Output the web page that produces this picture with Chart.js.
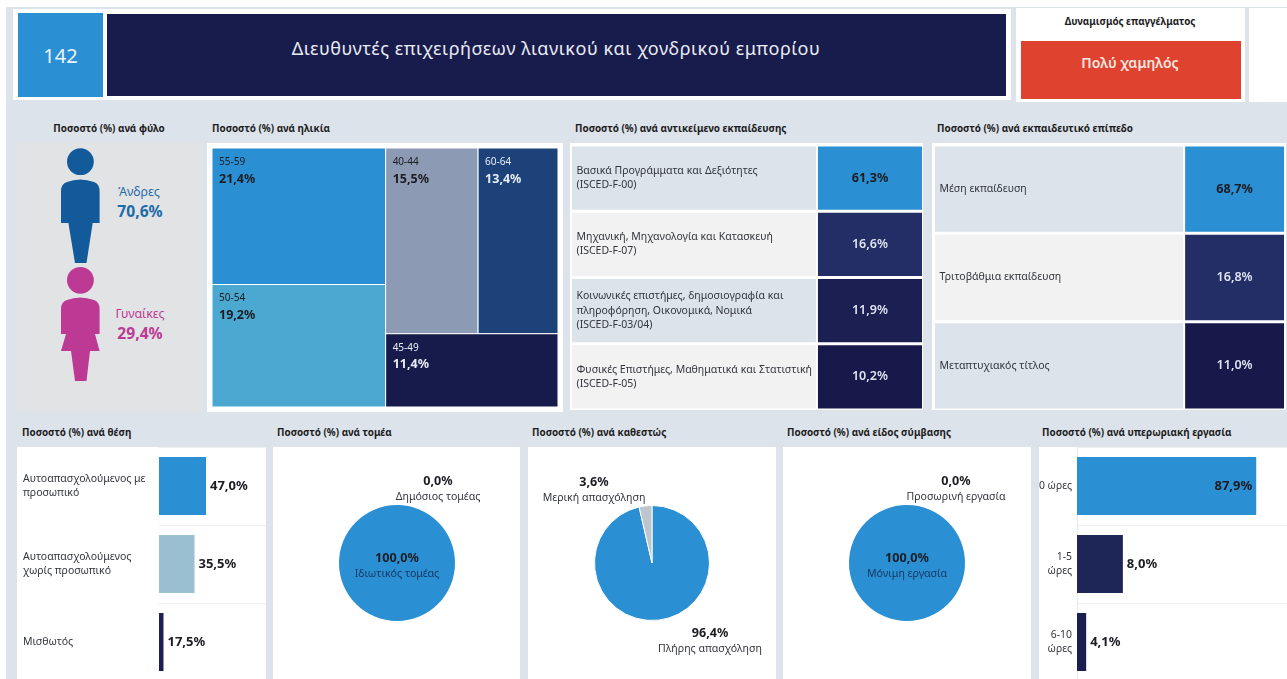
<!DOCTYPE html>
<html lang="el"><head><meta charset="utf-8"><title>Διευθυντές επιχειρήσεων λιανικού και χονδρικού εμπορίου</title>
<script src="https://cdn.jsdelivr.net/npm/chart.js@4"></script>
<style>
html,body{margin:0;padding:0;background:#fff;width:1287px;height:679px;overflow:hidden;font-family:"Noto Sans",sans-serif}
#s{position:absolute;left:0;top:0;width:1287px;height:679px;overflow:hidden}
.b{position:absolute}.t{position:absolute;white-space:nowrap;line-height:1}
canvas{position:absolute;display:block}
</style></head><body><div id="s"></div>
<script>
// ---- data ----
const occupationCode = "142";
const occupationTitle = "Διευθυντές επιχειρήσεων λιανικού και χονδρικού εμπορίου";
const dynamismTitle = "Δυναμισμός επαγγέλματος";
const dynamismValue = "Πολύ χαμηλός";

const genderLabels = ["Άνδρες", "Γυναίκες"];
const genderValues = [70.6, 29.4];

const ageLabels = ["55-59", "50-54", "40-44", "60-64", "45-49"];
const ageValues = [21.4, 19.2, 15.5, 13.4, 11.4];

const studyLabels = [
  ["Βασικά Προγράμματα και Δεξιότητες", "(ISCED-F-00)"],
  ["Μηχανική, Μηχανολογία και Κατασκευή", "(ISCED-F-07)"],
  ["Κοινωνικές επιστήμες, δημοσιογραφία και", "πληροφόρηση, Οικονομικά, Νομικά", "(ISCED-F-03/04)"],
  ["Φυσικές Επιστήμες, Μαθηματικά και Στατιστική", "(ISCED-F-05)"]
];
const studyValues = [61.3, 16.6, 11.9, 10.2];

const levelLabels = ["Μέση εκπαίδευση", "Τριτοβάθμια εκπαίδευση", "Μεταπτυχιακός τίτλος"];
const levelValues = [68.7, 16.8, 11.0];

const positionLabels = [["Αυτοαπασχολούμενος με", "προσωπικό"], ["Αυτοαπασχολούμενος", "χωρίς προσωπικό"], "Μισθωτός"];
const positionValues = [47.0, 35.5, 17.5];       // printed on the labels
const positionBarLengths = [47.0, 35.5, 4.5];    // length as drawn in the reference

const sectorLabels = ["Ιδιωτικός τομέας", "Δημόσιος τομέας"];
const sectorValues = [100.0, 0.0];

const statusLabels = ["Πλήρης απασχόληση", "Μερική απασχόληση"];
const statusValues = [96.4, 3.6];

const contractLabels = ["Μόνιμη εργασία", "Προσωρινή εργασία"];
const contractValues = [100.0, 0.0];

const overtimeLabels = ["0 ώρες", ["1-5", "ώρες"], ["6-10", "ώρες"]];
const overtimeValues = [87.9, 8.0, 4.1];         // printed on the labels
const overtimeBarLengths = [87.9, 22.5, 4.5];    // length as drawn in the reference

const headings = ["Ποσοστό (%) ανά φύλο", "Ποσοστό (%) ανά ηλικία", "Ποσοστό (%) ανά αντικείμενο εκπαίδευσης",
  "Ποσοστό (%) ανά εκπαιδευτικό επίπεδο", "Ποσοστό (%) ανά θέση", "Ποσοστό (%) ανά τομέα",
  "Ποσοστό (%) ανά καθεστώς", "Ποσοστό (%) ανά είδος σύμβασης", "Ποσοστό (%) ανά υπερωριακή εργασία"];

// ---- styling ----
const FONT = '"Noto Sans", sans-serif';
const BLUE = "#2A8FD3", NAVY = "#181C4D", INK = "#1c1c22";
const fmt = v => v.toFixed(1).replace(".", ",") + "%";
const root = document.getElementById("s");
Chart.defaults.animation = false;
Chart.defaults.responsive = false;
Chart.defaults.font.family = FONT;
Chart.defaults.plugins.legend.display = false;
Chart.defaults.plugins.tooltip.enabled = false;
Chart.defaults.devicePixelRatio = 1;

function box(x, y, w, h, c) {
  const d = document.createElement("div"); d.className = "b";
  d.style.cssText = `left:${x}px;top:${y}px;width:${w}px;height:${h}px;background:${c}`;
  root.appendChild(d); return d;
}
function text(x, y, s, css, align) {
  const d = document.createElement("div"); d.className = "t"; d.textContent = s;
  const tx = align === "left" ? "0" : "-50%";
  d.style.cssText = `left:${x}px;top:${y}px;transform:translate(${tx},-50%);${css}`;
  root.appendChild(d); return d;
}
function cv(x, y, w, h) {
  const c = document.createElement("canvas");
  c.width = w; c.height = h; c.style.left = x + "px"; c.style.top = y + "px";
  c.style.width = w + "px"; c.style.height = h + "px";
  root.appendChild(c); return c;
}
function noPadding(s) { s.paddingTop = 0; s.paddingBottom = 0; s.paddingLeft = 0; s.paddingRight = 0; }

// ---- page frame ----
box(6, 7, 1281, 672, "#DCE3EA");
box(13, 9, 998, 91, "#fff");
box(18, 13, 85, 84, BLUE);
box(107, 14, 899, 82, NAVY);
box(1016, 8, 229, 94, "#fff");
box(1249, 8, 38, 94, "#fff");
box(1021, 41, 220, 58, "#DF432F");
text(60.5, 56, occupationCode, "font-size:20px;color:#eaf3fa");
text(556, 48, occupationTitle, "font-size:18px;letter-spacing:.55px;color:#e9ebf2");
text(1130, 22, dynamismTitle, "font-size:9.8px;font-weight:700;color:#1c1c22");
text(1130, 63, dynamismValue, "font-size:14px;font-weight:600;color:#f6e6e0");

const H = "font-size:9.9px;font-weight:700;color:#1c1c22";
text(109, 129, headings[0], H);
[[212,129,1],[575,129,2],[937,129,3],[22,432.5,4],[277,432.5,5],[532,432.5,6],[787,432.5,7],[1042,432.5,8]]
  .forEach(p => text(p[0], p[1], headings[p[2]], H, "left"));

// ---- gender pictogram ----
box(17, 143, 185, 269, "#E2E3E5");
const ns = "http://www.w3.org/2000/svg";
const svg = document.createElementNS(ns, "svg");
svg.setAttribute("width", 185); svg.setAttribute("height", 269);
svg.style.cssText = "position:absolute;left:17px;top:143px";
svg.innerHTML =
 `<g transform="translate(-17,-143)">
  <circle cx="80.4" cy="161.7" r="13.4" fill="#125A9A"/>
  <path fill="#125A9A" d="M61 191Q61 184 67 182Q80 177 94 182Q99.6 184 99.6 191V223H92.7L86.5 263H75L68.4 223H61Z"/>
  <circle cx="80.4" cy="280.3" r="13.4" fill="#BC3A94"/>
  <path fill="#BC3A94" d="M61 309Q61 302 67 300Q80 295 94 300Q99.6 302 99.6 309V334H95L99.6 351H90L86.5 381H75L71 351H61L66 334H61Z"/>
  </g>`;
root.appendChild(svg);
text(139, 192, genderLabels[0], "font-size:12.4px;color:#1E6BA8");
text(140, 212, fmt(genderValues[0]), "font-size:15.6px;font-weight:700;color:#1E6BA8");
text(140, 314, genderLabels[1], "font-size:12.4px;color:#BC3A94");
text(140, 334, fmt(genderValues[1]), "font-size:15.6px;font-weight:700;color:#BC3A94");

// ---- age treemap: rectangles derived from the values, placed through the scales ----
box(207, 143, 356, 269, "#fff");
(function () {
  const v = ageValues, total = v.reduce((a, b) => a + b, 0);
  const left = v[0] + v[1], topRight = v[2] + v[3], right = total - left;
  const hTop = topRight / right, wA = v[2] / topRight * right;
  const cells = [
    [0, left, 0, v[0] / left],
    [0, left, v[0] / left, 1],
    [left, left + wA, 0, hTop],
    [left + wA, total, 0, hTop],
    [left, total, hTop, 1]
  ];
  const colours = [BLUE, "#4BA9D1", "#8C9BB3", "#1C4279", "#171B4B"];
  const ink = [INK, INK, INK, "#e8ecf4", "#e8ecf4"];
  new Chart(cv(212, 148, 346, 259), {
    type: "scatter",
    data: { datasets: [{ data: cells.map(c => ({ x: (c[0] + c[1]) / 2, y: (c[2] + c[3]) / 2 })), pointRadius: 0 }] },
    options: {
      layout: { padding: 0, autoPadding: false },
      scales: {
        x: { type: "linear", min: 0, max: total, display: false },
        y: { type: "linear", min: 0, max: 1, reverse: true, display: false }
      }
    },
    plugins: [{
      id: "treemap",
      afterDatasetsDraw(ch) {
        const g = ch.ctx, X = ch.scales.x, Y = ch.scales.y;
        cells.forEach((c, i) => {
          const x0 = X.getPixelForValue(c[0]), x1 = X.getPixelForValue(c[1]);
          const y0 = Y.getPixelForValue(c[2]), y1 = Y.getPixelForValue(c[3]);
          g.fillStyle = colours[i];
          g.fillRect(x0, y0, x1 - x0, y1 - y0);
          g.strokeStyle = "#fff"; g.lineWidth = 1;
          g.strokeRect(x0, y0, x1 - x0, y1 - y0);
          g.fillStyle = ink[i]; g.textAlign = "left"; g.textBaseline = "middle";
          g.font = `10px ${FONT}`; g.fillText(ageLabels[i], x0 + 7, y0 + 14);
          g.font = `700 12.5px ${FONT}`; g.fillText(fmt(ageValues[i]), x0 + 7, y0 + 31);
        });
      }
    }]
  });
})();

// ---- heat tables: bar cells, category ticks as row labels ----
function tableChart(rect, cats, vals, cellColours, rowColours, inks, share, lineH) {
  const SPLIT = share, GAP = 2 / rect[2];
  const rowH = rect[3] / cats.length;
  new Chart(cv(rect[0], rect[1], rect[2], rect[3]), {
    type: "bar",
    data: {
      labels: cats,
      datasets: [
        { data: cats.map(() => [0, SPLIT]), backgroundColor: rowColours, grouped: false },
        { data: vals.map(() => [SPLIT + GAP, 1]), backgroundColor: cellColours, grouped: false, values: vals }
      ]
    },
    options: {
      indexAxis: "y",
      layout: { padding: 0, autoPadding: false },
      datasets: { bar: { categoryPercentage: 1, barPercentage: (rowH - 3) / rowH } },
      scales: {
        x: { type: "linear", min: 0, max: 1, display: false },
        y: {
          type: "category",
          afterFit(s) { s.width = 0; noPadding(s); },
          border: { display: false }, grid: { display: false },
          ticks: { mirror: true, z: 2, padding: 4.5, color: "#33353c", font: { size: 10.5, lineHeight: lineH }, autoSkip: false }
        }
      }
    },
    plugins: [{
      id: "cellValues",
      afterDatasetsDraw(ch) {
        const g = ch.ctx, meta = ch.getDatasetMeta(1);
        g.textAlign = "center"; g.textBaseline = "middle";
        meta.data.forEach((el, i) => {
          g.fillStyle = inks[i];
          g.font = `${i === 0 ? 700 : 600} 12.6px ${FONT}`;
          g.fillText(fmt(vals[i]), (el.x + el.base) / 2, el.y);
        });
      }
    }]
  });
}
box(570, 143, 353, 267, "#fff");
box(932, 143, 354, 267, "#fff");
tableChart([572, 145, 350, 265], studyLabels, studyValues,
  [BLUE, "#232E66", "#1B1F52", "#17194A"], ["#DCE3EA", "#F2F2F2", "#DCE3EA", "#F2F2F2"],
  [INK, "#dfe3ef", "#dfe3ef", "#dfe3ef"], 0.697, 1.35);
tableChart([935, 145, 349, 265], levelLabels, levelValues,
  [BLUE, "#232E66", "#17194A"], ["#DCE3EA", "#F2F2F2", "#DCE3EA"],
  [INK, "#dfe3ef", "#dfe3ef"], 0.711, 1.35);

// ---- horizontal bar panels ----
function barChart(rect, cats, lengths, vals, colours, axisLeft, max, opts) {
  const padL = opts.padL || 0;
  new Chart(cv(rect[0], rect[1], rect[2], rect[3]), {
    type: "bar",
    data: { labels: cats, datasets: [{ data: lengths, backgroundColor: colours, barPercentage: 58 / 78, categoryPercentage: 1 }] },
    options: {
      indexAxis: "y",
      layout: { padding: { left: padL, right: 0, top: 0, bottom: 0 }, autoPadding: false },
      scales: {
        x: { min: 0, max, display: false },
        y: {
          afterFit(s) { s.width = axisLeft - rect[0] - padL; noPadding(s); },
          border: { color: "#e6e8ea", display: opts.axis },
          grid: { offset: true, color: "#eef0f2", drawTicks: false },
          ticks: { color: "#33353c", font: { size: opts.size, lineHeight: 1.4 }, crossAlign: opts.cross, padding: 5, autoSkip: false }
        }
      }
    },
    plugins: [{
      id: "barValues",
      afterDatasetsDraw(ch) {
        const g = ch.ctx;
        g.textBaseline = "middle"; g.fillStyle = INK; g.font = `700 13px ${FONT}`;
        ch.getDatasetMeta(0).data.forEach((el, i) => {
          const inside = opts.inside === i;
          g.textAlign = inside ? "right" : "left";
          g.fillText(fmt(vals[i]), el.x + (inside ? -4 : 4), el.y);
        });
      }
    }]
  });
}
box(17, 447, 249, 232, "#fff");
box(1039, 447, 248, 232, "#fff");
barChart([17, 447, 249, 234], positionLabels, positionBarLengths, positionValues,
  [BLUE, "#9ABFD0", "#1C1E57"], 159, 107, { padL: 6, size: 10.5, cross: "far", axis: false });
barChart([1039, 447, 248, 234], overtimeLabels, overtimeBarLengths, overtimeValues,
  [BLUE, "#1E2557", "#1B1F50"], 1077, 103, { size: 10.4, cross: "near", axis: true, inside: 0 });

// ---- pies ----
function pieChart(rect, labels, values, colours, marks) {
  new Chart(cv(rect[0], rect[1], rect[2], rect[3]), {
    type: "pie",
    data: { labels, datasets: [{ data: values, backgroundColor: colours, borderWidth: values[1] > 0 ? 1 : 0, borderColor: "#fff" }] },
    options: { layout: { padding: (rect[3] - 116) / 2 } },
    plugins: [{
      id: "pieLabels",
      afterDatasetsDraw(ch) {
        const g = ch.ctx, a = ch.chartArea;
        const cx = (a.left + a.right) / 2, cy = (a.top + a.bottom) / 2;
        g.textAlign = "center"; g.textBaseline = "middle";
        marks.forEach((m, i) => {
          g.fillStyle = INK; g.font = `700 12.6px ${FONT}`;
          g.fillText(fmt(values[i]), cx + m[0], cy + m[1]);
          g.fillStyle = m[2]; g.font = `10.6px ${FONT}`;
          g.fillText(labels[i], cx + m[0], cy + m[1] + 16);
        });
      }
    }]
  });
}
[[273, 247], [528, 248], [783, 248]].forEach(p => box(p[0], 447, p[1], 232, "#fff"));
pieChart([273, 447, 248, 232], sectorLabels, sectorValues, [BLUE, "#BFC5CF"], [[0, -5, "#173a63"], [41, -82, "#33353c"]]);
pieChart([528, 447, 248, 232], statusLabels, statusValues, [BLUE, "#BFC5CF"], [[58, 70, "#33353c"], [-58, -81, "#33353c"]]);
pieChart([783, 447, 248, 232], contractLabels, contractValues, [BLUE, "#BFC5CF"], [[0, -5, "#173a63"], [49, -82, "#33353c"]]);
</script></body></html>
